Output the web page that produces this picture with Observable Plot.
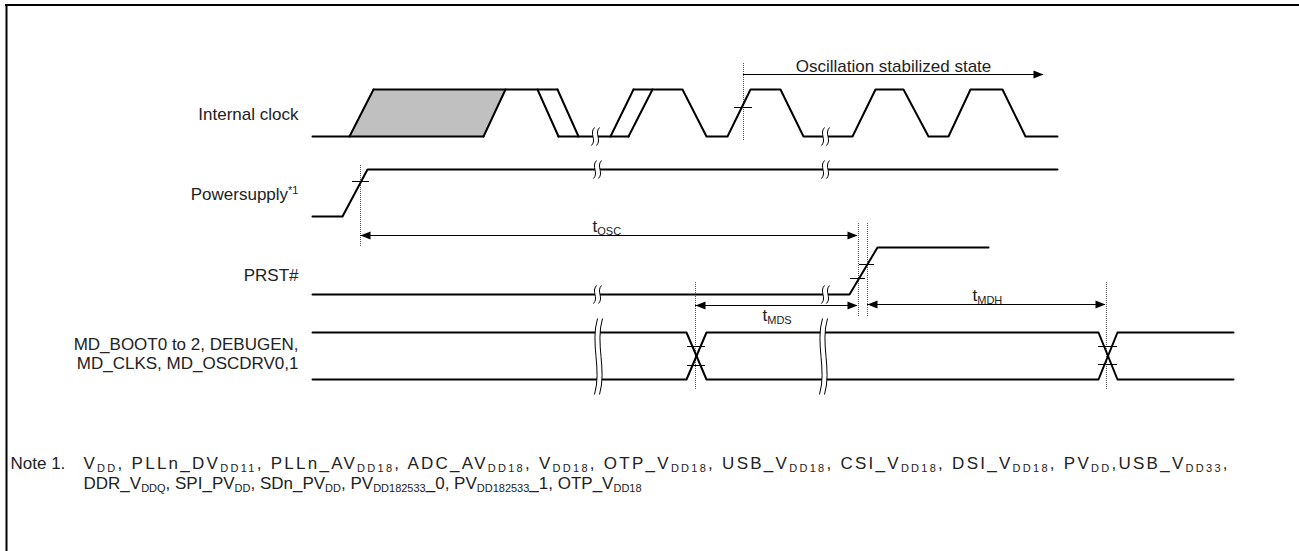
<!DOCTYPE html>
<html><head><meta charset="utf-8">
<script src="https://cdn.jsdelivr.net/npm/d3@7"></script>
<script src="https://cdn.jsdelivr.net/npm/@observablehq/plot@0.6"></script>
<style>html,body{margin:0;padding:0;background:#fff;}</style>
</head><body><div id="chart"></div>
<script>
const W = 1299, H = 551;

// ---- signal names ----
const rowLabels = ["Internal clock", "Powersupply^{*1}", "PRST#", "MD_BOOT0 to 2, DEBUGEN,\nMD_CLKS, MD_OSCDRV0,1"];
const rowLabelY = [112.6, 192.6, 273.6, 352.6];

// ---- waveforms: segments of [time, level] ----
const clockSegments = [
  [[312,136],[483,136]],
  [[349,136],[373,89]],
  [[483,136],[505,89]],
  [[373,89],[557,89]],
  [[537,89],[558,136]],
  [[557,89],[578,136]],
  [[558,136],[628,136]],
  [[610,136],[633,89]],
  [[628,136],[652,89]],
  [[633,89],[682,89],[706,136],[727,136],[750,89],[780,89],[803,136],[852,136],[875,89],[903,89],[928,136],[948,136],[970,89],[1002,89],[1025,136],[1057,136]]
];
const clockUnstable = [{y:136, x1:349, x2:483}, {y:89, x1:373, x2:505}];
const powerSegments = [[[312,216],[342,216],[367,169],[1057,169]]];
const prstSegments = [[[312,294],[849,294],[877,247],[988,247]]];
const mdSegments = [
  [[312,332],[686,332],[706,379],[1098,379],[1117,332],[1233,332]],
  [[312,379],[686,379],[706,332],[1098,332],[1117,379],[1233,379]]
];

// ---- time-axis breaks ----
const breaksShort = [{t:595,v:136},{t:825,v:136},{t:597,v:169},{t:825,v:169},{t:597,v:294},{t:825,v:294}];
const breaksTall = [{t:598,v:356},{t:823,v:356}];

// ---- reference guides & threshold ticks ----
const guides = [{t:743,v1:63,v2:140},{t:360,v1:165,v2:247},{t:858,v1:223,v2:317},{t:867,v1:223,v2:317},{t:695,v1:282,v2:390},{t:1106,v1:282,v2:390}];
const crossTicks = [{v:107,t1:734,t2:752},{v:181,t1:352,t2:369},{v:278,t1:850,t2:865},{v:264,t1:859,t2:874},{v:346,t1:687,t2:705},{v:365,t1:687,t2:705},{v:346,t1:1098,t2:1117},{v:364,t1:1098,t2:1117}];

// ---- timing arrows ----
const timingNames = ["t{OSC}", "t{MDS}", "t{MDH}", "Oscillation stabilized state"];
const timingLevel = [235, 305, 304, 74];
const timingFrom = [360, 695, 867, 743];
const timingTo = [857, 857, 1105, 1043];
const timingBothEnds = [true, true, true, false];
const timingLabelT = [592, 762, 972, 893];
const timingLabelV = [225.6, 314.6, 294.6, 65.6];
const timingLabelAnchor = ["start", "start", "start", "middle"];

// ---- note ----
const noteHead = "Note 1.";
const noteLines = [
  "V{DD}, PLLn_DV{DD11}, PLLn_AV{DD18}, ADC_AV{DD18}, V{DD18}, OTP_V{DD18}, USB_V{DD18}, CSI_V{DD18}, DSI_V{DD18}, PV{DD},USB_V{DD33},",
  "DDR_V{DDQ}, SPI_PV{DD}, SDn_PV{DD}, PV{DD182533}_0, PV{DD182533}_1, OTP_V{DD18}"
];
const noteV = [462.6, 482.6];
const noteLineLength = [1144, null]; // first (wrapped) line spans the full text width

// ---- build tables ----
const flat = (segs, name) => segs.flatMap((seg, i) => seg.map(([t, v]) => ({sig: name + i, t, v})));
const waves = [...flat(clockSegments, "clk"), ...flat(powerSegments, "pwr"), ...flat(prstSegments, "rst"), ...flat(mdSegments, "md")];
const timing = timingNames.map((name, i) => ({name, v: timingLevel[i], t1: timingFrom[i], t2: timingTo[i], both: timingBothEnds[i], lt: timingLabelT[i], lv: timingLabelV[i], anchor: timingLabelAnchor[i]}));
const labels = rowLabels.map((name, i) => ({name, v: rowLabelY[i]}));
const notes = noteLines.map((s, i) => ({s, v: noteV[i]}));

// ---- symbols ----
const headRight = {draw(c){ c.moveTo(0,0); c.lineTo(-10,-4); c.lineTo(-10,4); c.closePath(); }};
const headLeft = {draw(c){ c.moveTo(0,0); c.lineTo(10,-4); c.lineTo(10,4); c.closePath(); }};
function sCurve(c, cx, h, w, reverse){
  if (!reverse) { c.moveTo(cx+1.5, -h/2); c.bezierCurveTo(cx-w, -h/6, cx+w, h/6, cx-1.5, h/2); }
  else { c.lineTo(cx-1.5, h/2); c.bezierCurveTo(cx+w, h/6, cx-w, -h/6, cx+1.5, -h/2); }
}
function breakGap(h, w){ return {draw(c){ sCurve(c, -2.5, h, w, false); sCurve(c, 2.5, h, w, true); c.closePath(); }}; }
function breakLines(h, w){ return {draw(c){ sCurve(c, -2.5, h, w, false); sCurve(c, 2.5, h, w, false); }}; }

const chart = Plot.plot({
  width: W, height: H, margin: 0,
  x: {domain: [0, W], range: [0, W], axis: null},
  y: {domain: [0, H], range: [0, H], axis: null},
  style: {background: "#fff", fontFamily: "'Liberation Sans', Arial, sans-serif", fontSize: "17px"},
  marks: [
    Plot.ruleY([4.5], {x1: 5, x2: W, stroke: "#000", strokeWidth: 2}),
    Plot.ruleX([6], {y1: 4, y2: H, stroke: "#000", strokeWidth: 2}),
    Plot.areaX(clockUnstable, {y: "y", x1: "x1", x2: "x2", fill: "#c0c0c0"}),
    Plot.ruleX(guides, {x: "t", y1: "v1", y2: "v2", stroke: "#555", strokeWidth: 1, strokeDasharray: "1,1"}),
    Plot.line(waves, {x: "t", y: "v", z: "sig", stroke: "#000", strokeWidth: 2}),
    Plot.dot(breaksShort, {x: "t", y: "v", symbol: breakGap(18, 4), fill: "#fff", stroke: "none"}),
    Plot.dot(breaksShort, {x: "t", y: "v", symbol: breakLines(18, 4), fill: "none", stroke: "#000", strokeWidth: 1}),
    Plot.dot(breaksTall, {x: "t", y: "v", symbol: breakGap(76, 6), fill: "#fff", stroke: "none"}),
    Plot.dot(breaksTall, {x: "t", y: "v", symbol: breakLines(76, 6), fill: "none", stroke: "#000", strokeWidth: 1}),
    Plot.ruleY(crossTicks, {y: "v", x1: "t1", x2: "t2", stroke: "#000", strokeWidth: 1}),
    Plot.ruleY(timing, {y: "v", x1: "t1", x2: "t2", stroke: "#000", strokeWidth: 1}),
    Plot.dot(timing, {x: "t2", y: "v", symbol: headRight, fill: "#000", stroke: "none"}),
    Plot.dot(timing.filter(d => d.both), {x: "t1", y: "v", symbol: headLeft, fill: "#000", stroke: "none"}),
    Plot.text(timing.filter(d => d.anchor === "start"), {x: "lt", y: "lv", text: "name", textAnchor: "start", fill: "#222"}),
    Plot.text(timing.filter(d => d.anchor === "middle"), {x: "lt", y: "lv", text: "name", textAnchor: "middle", fill: "#222"}),
    Plot.text(labels, {x: 298, y: "v", text: "name", textAnchor: "end", lineHeight: 20/17, fill: "#222"}),
    Plot.text([noteHead], {x: 10, y: noteV[0], text: d => d, textAnchor: "start", fill: "#222"}),
    Plot.text(notes, {x: 83, y: "v", text: "s", textAnchor: "start", fill: "#222"})
  ]
});

// rich text: {..} subscript, ^{..} superscript
const SVGNS = "http://www.w3.org/2000/svg";
chart.querySelectorAll("text").forEach(t => {
  const s = t.textContent;
  if (!s.includes("{") || t.querySelector("tspan")) return;
  const re = /(\^?)\{([^}]*)\}|([^{^]+)/g;
  t.textContent = "";
  let shift = 0, m;
  while ((m = re.exec(s))) {
    const ts = document.createElementNS(SVGNS, "tspan");
    let target = 0, fs = null;
    if (m[3] !== undefined) { ts.textContent = m[3]; }
    else if (m[1] === "^") { ts.textContent = m[2]; target = -6; fs = "11px"; }
    else { ts.textContent = m[2]; target = 3; fs = "11px"; }
    if (target !== shift) { ts.setAttribute("dy", target - shift); shift = target; }
    if (fs) ts.setAttribute("font-size", fs);
    t.appendChild(ts);
  }
  const idx = noteLines.indexOf(s);
  if (idx >= 0 && noteLineLength[idx]) {
    t.setAttribute("textLength", noteLineLength[idx]);
    t.setAttribute("lengthAdjust", "spacing");
  }
});

document.getElementById("chart").appendChild(chart);
</script></body></html>
